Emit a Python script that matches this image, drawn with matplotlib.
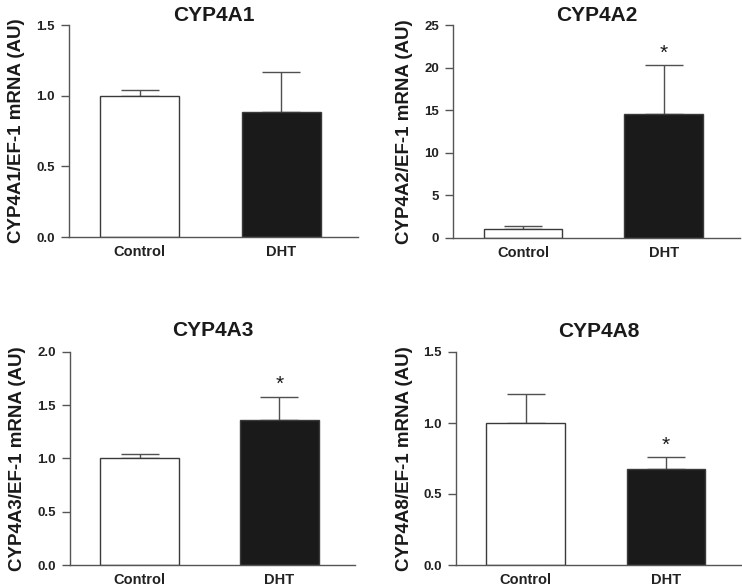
import matplotlib
matplotlib.use("Agg")
import matplotlib.pyplot as plt

plt.rcParams['font.family'] = ['Liberation Sans', 'DejaVu Sans']
plt.rcParams['font.weight'] = 'bold'

groups = ["Control", "DHT"]
titles = ["CYP4A1", "CYP4A2", "CYP4A3", "CYP4A8"]
ylabels = ["CYP4A1/EF-1 mRNA (AU)", "CYP4A2/EF-1 mRNA (AU)",
           "CYP4A3/EF-1 mRNA (AU)", "CYP4A8/EF-1 mRNA (AU)"]
means_4a1 = [1.0, 0.887]
err_4a1 = [0.042, 0.28]
means_4a2 = [1.0, 14.57]
err_4a2 = [0.34, 5.69]
means_4a3 = [1.0, 1.362]
err_4a3 = [0.038, 0.213]
means_4a8 = [1.0, 0.674]
err_4a8 = [0.202, 0.084]
all_means = [means_4a1, means_4a2, means_4a3, means_4a8]
all_errs = [err_4a1, err_4a2, err_4a3, err_4a8]
star = [[False, False], [False, True], [False, True], [False, True]]
yticks = [[0.0, 0.5, 1.0, 1.5], [0, 5, 10, 15, 20, 25],
          [0.0, 0.5, 1.0, 1.5, 2.0], [0.0, 0.5, 1.0, 1.5]]
ytick_labels = [["0.0", "0.5", "1.0", "1.5"], ["0", "5", "10", "15", "20", "25"],
                ["0.0", "0.5", "1.0", "1.5", "2.0"], ["0.0", "0.5", "1.0", "1.5"]]

W, H = 742, 587
fig = plt.figure(figsize=(W / 100, H / 100), dpi=100)

# axes boxes in pixels: left, right, bottom(y px), top(y px)
boxes = [(69, 358, 237, 25), (453, 740, 237.7, 25),
         (70, 355, 565, 351.7), (456, 742, 565, 352)]
title_pads = [3, 3, 11, 11]

spine_col = "#555555"
for i in range(4):
    l, r, b, t = boxes[i]
    ax = fig.add_axes([l / W, 1 - b / H, (r - l) / W, (b - t) / H])
    x = [0, 1]
    colors = ["white", "#1a1a1a"]
    ax.bar(x, all_means[i], width=0.56, color=colors, edgecolor="#3a3a3a",
           linewidth=1.0, zorder=2)
    ax.errorbar(x, all_means[i], yerr=[[0, 0], all_errs[i]], fmt="none",
                ecolor="#505050", elinewidth=1.0, capsize=14, capthick=1.0, zorder=1)
    ymax = yticks[i][-1]
    for j in range(2):
        if star[i][j]:
            top = all_means[i][j] + all_errs[i][j]
            ax.annotate("*", (x[j], top), xytext=(0, 2), textcoords="offset points",
                        ha="center", va="bottom", fontsize=15, fontweight="normal",
                        color="#1a1a1a")
    ax.set_xlim(-0.497, 1.54)
    ax.set_ylim(0, ymax)
    ax.set_yticks(yticks[i])
    ax.set_yticklabels(ytick_labels[i])
    ax.set_xticks(x)
    ax.set_xticklabels(groups, fontsize=10.5, fontweight="bold", color="#222222")
    ax.tick_params(axis="x", length=0, pad=6)
    ax.tick_params(axis="y", length=6, width=1.0, color=spine_col, labelsize=9.5,
                   labelcolor="#222222", pad=4)
    for lab in ax.get_yticklabels():
        lab.set_fontweight("bold")
    for s in ["top", "right"]:
        ax.spines[s].set_visible(False)
    for s in ["left", "bottom"]:
        ax.spines[s].set_color(spine_col)
        ax.spines[s].set_linewidth(1.0)
    ax.set_title(titles[i], fontsize=15, fontweight="bold", color="#1a1a1a",
                 pad=title_pads[i])
    ax.set_ylabel(ylabels[i], fontsize=13.5, fontweight="bold", color="#1a1a1a",
                  labelpad=8)

fig.savefig("out.png", dpi=100, facecolor="white")
